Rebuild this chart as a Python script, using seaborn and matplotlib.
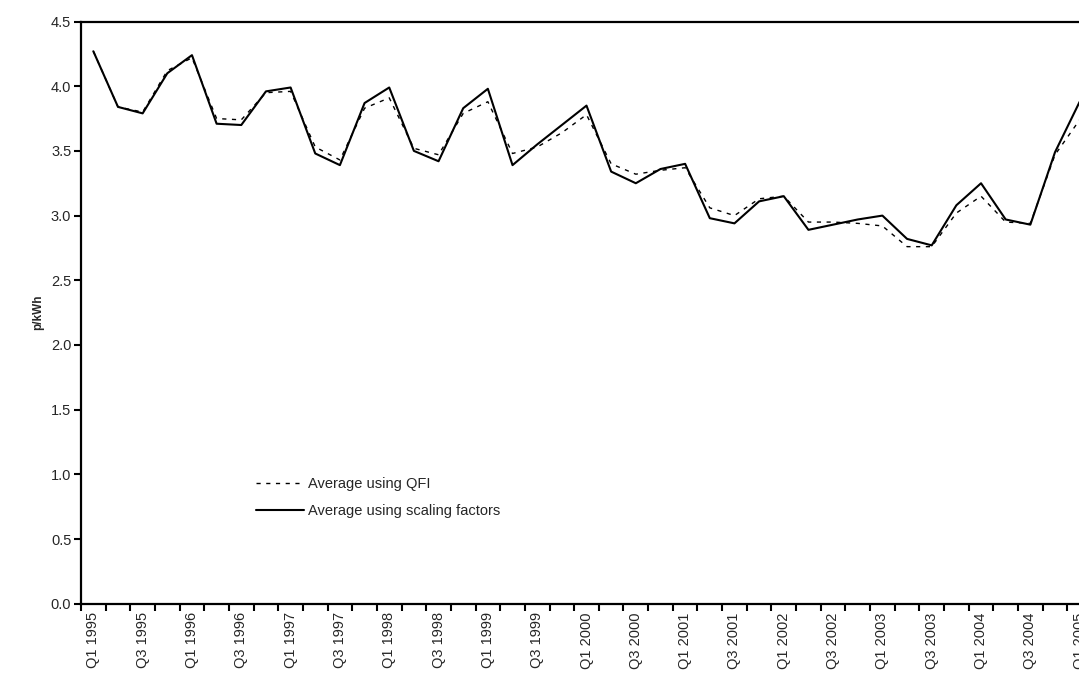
import numpy as np
import pandas as pd
import matplotlib
matplotlib.use("Agg")
import matplotlib.pyplot as plt
import seaborn as sns

quarters = [f"Q{q} {y}" for y in range(1995, 2005) for q in (1, 2, 3, 4)] + ["Q1 2005"]

qfi = [4.27, 3.84, 3.80, 4.12, 4.22, 3.75, 3.74, 3.95, 3.96, 3.53,
       3.43, 3.83, 3.91, 3.52, 3.47, 3.79, 3.88, 3.48, 3.53, 3.64,
       3.78, 3.40, 3.32, 3.35, 3.37, 3.06, 3.00, 3.13, 3.15, 2.95,
       2.95, 2.94, 2.92, 2.76, 2.76, 3.02, 3.15, 2.95, 2.94, 3.47,
       3.74]
scaling = [4.27, 3.84, 3.79, 4.10, 4.24, 3.71, 3.70, 3.96, 3.99, 3.48,
           3.39, 3.87, 3.99, 3.50, 3.42, 3.83, 3.98, 3.39, 3.55, 3.70,
           3.85, 3.34, 3.25, 3.36, 3.40, 2.98, 2.94, 3.11, 3.15, 2.89,
           2.93, 2.97, 3.00, 2.82, 2.77, 3.08, 3.25, 2.97, 2.93, 3.49,
           3.88]

series_names = ["Average using QFI", "Average using scaling factors"]
y_ticks = [0.0, 0.5, 1.0, 1.5, 2.0, 2.5, 3.0, 3.5, 4.0, 4.5]

sns.set_style("ticks")
plt.rcParams["font.family"] = ["Liberation Sans", "DejaVu Sans"]

idx = np.arange(len(quarters))
df = pd.DataFrame({
    "idx": np.concatenate([idx, idx]),
    "value": qfi + scaling,
    "series": [series_names[0]] * len(qfi) + [series_names[1]] * len(scaling),
})

W, H = 1079, 675
fig = plt.figure(figsize=(W / 100, H / 100), dpi=100)
left_px, right_px, top_px, bot_px = 81, 1092, 21.5, 603.8
ax = fig.add_axes([left_px / W, 1 - bot_px / H, (right_px - left_px) / W, (bot_px - top_px) / H])

sns.lineplot(data=df[df.series == series_names[0]], x="idx", y="value", ax=ax,
             color="black", linewidth=1.0, linestyle=(0, (3, 4)), label=series_names[0])
sns.lineplot(data=df[df.series == series_names[1]], x="idx", y="value", ax=ax,
             color="black", linewidth=1.5, label=series_names[1])

ax.set_xlim(-0.5, len(quarters) - 0.5)
ax.set_ylim(0, 4.5)
ax.set_yticks(y_ticks)
ax.set_yticklabels([f"{v:.1f}" for v in y_ticks], fontsize=10.5)

major = idx[::2]
ax.set_xticks(major)
ax.set_xticklabels([quarters[i] for i in major], rotation=90, fontsize=10.5, va="top", ha="center")
ax.set_xticks(np.arange(-0.5, len(quarters), 1.0), minor=True)
ax.tick_params(axis="x", which="major", length=0, pad=6)
ax.tick_params(axis="x", which="minor", length=5, width=1.5, direction="out", color="black")
ax.tick_params(axis="y", length=5, width=1.5, direction="out", color="black", pad=2)

for side in ["left", "bottom", "top"]:
    ax.spines[side].set_visible(True)
    ax.spines[side].set_linewidth(1.6)
    ax.spines[side].set_color("black")
ax.spines["right"].set_visible(False)

ax.set_xlabel("")
ax.set_ylabel("p/kWh", fontsize=8.5, fontweight="bold", labelpad=5)
ax.grid(False)

leg = ax.legend(loc="upper left", bbox_to_anchor=((250 - left_px) / (right_px - left_px), (bot_px - 471) / (bot_px - top_px)),
                frameon=False, fontsize=10.5, handlelength=3.3, handletextpad=0.25, labelspacing=0.9,
                borderaxespad=0)

fig.savefig("out.png", dpi=100)
